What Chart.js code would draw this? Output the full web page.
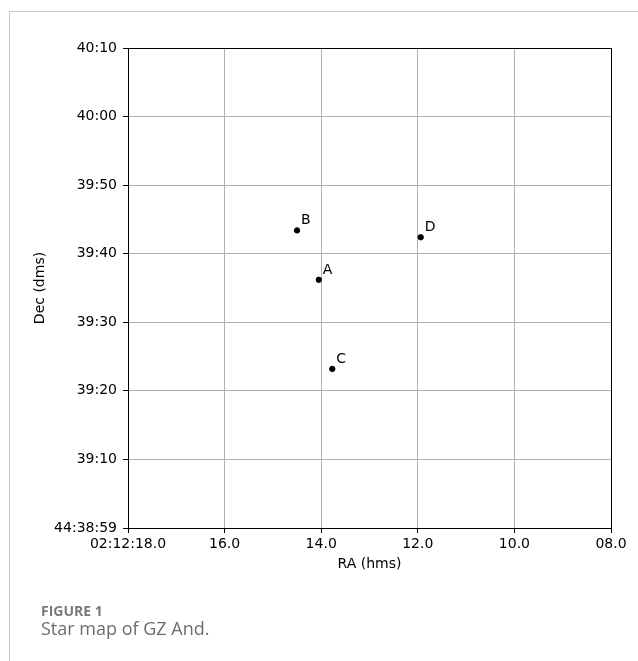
<!DOCTYPE html>
<html>
<head>
<meta charset="utf-8">
<script src="https://cdn.jsdelivr.net/npm/chart.js@4/dist/chart.umd.min.js"></script>
<style>
  html, body { margin: 0; padding: 0; background: #fff; width: 638px; height: 661px; overflow: hidden; }
  #frame { position: absolute; left: 9px; top: 11px; right: 0; bottom: 0; border-top: 1px solid #c8c8c8; border-left: 1px solid #c8c8c8; }
  #wrap { position: absolute; left: 0; top: 0; width: 638px; height: 661px; }
  .cap { position: absolute; left: 41px; font-family: "Open Sans", sans-serif; color: #6d6d6d; white-space: nowrap; }
  #capHead { top: 601px; font-size: 14px; font-weight: 700; color: #7a7a7a; }
  #capText { top: 616px; font-size: 18px; }
</style>
</head>
<body>
<div id="frame"></div>
<div id="wrap"><canvas id="starMap"></canvas></div>
<div class="cap" id="capHead">FIGURE 1</div>
<div class="cap" id="capText">Star map of GZ And.</div>
<script>
// stars around GZ And: RA seconds past 02:12, Dec arcsec past 44:39:00
var starNames = ['A', 'B', 'C', 'D'];
var raSec = [14.05, 14.50, 13.77, 11.94];
var decSec = [36.2, 43.4, 23.2, 42.4];

var raTicks = [18, 16, 14, 12, 10, 8];
var raTickLabels = ['02:12:18.0', '16.0', '14.0', '12.0', '10.0', '08.0'];
var decTicks = [0, 10, 20, 30, 40, 50, 60, 70];
var decTickLabels = ['44:38:59', '39:10', '39:20', '39:30', '39:40', '39:50', '40:00', '40:10'];

var tickFont = { family: 'DejaVu Sans', size: 14 };

function lookup(values, labels, v) {
  for (var i = 0; i < values.length; i++) {
    if (Math.abs(values[i] - v) < 1e-6) return labels[i];
  }
  return '';
}

var points = [];
for (var i = 0; i < starNames.length; i++) {
  points.push({ x: raSec[i], y: decSec[i] });
}

// black box around the plot area
var frameBox = {
  id: 'frameBox',
  afterDraw: function(chart) {
    var a = chart.chartArea;
    var c = chart.ctx;
    c.save();
    c.strokeStyle = '#000';
    c.lineWidth = 1;
    c.strokeRect(Math.round(a.left) + 0.5, Math.round(a.top) + 0.5,
      Math.round(a.right - a.left), Math.round(a.bottom - a.top));
    c.restore();
  }
};

// star name next to each dot
var starLabels = {
  id: 'starLabels',
  afterDatasetsDraw: function(chart) {
    var c = chart.ctx;
    var xs = chart.scales.x, ys = chart.scales.y;
    c.save();
    c.font = '14px "DejaVu Sans"';
    c.fillStyle = '#000';
    c.textAlign = 'left';
    c.textBaseline = 'alphabetic';
    for (var i = 0; i < starNames.length; i++) {
      c.fillText(starNames[i], xs.getPixelForValue(raSec[i]) + 4, ys.getPixelForValue(decSec[i]) - 6);
    }
    c.restore();
  }
};

new Chart(document.getElementById('starMap'), {
  type: 'scatter',
  data: {
    datasets: [{
      data: points,
      backgroundColor: '#000',
      borderColor: '#000',
      pointRadius: 2.7,
      pointHoverRadius: 2.7
    }]
  },
  options: {
    responsive: true,
    maintainAspectRatio: false,
    animation: false,
    layout: { padding: { left: 0, top: 48, right: 27, bottom: 88 } },
    plugins: { legend: { display: false }, tooltip: { enabled: false } },
    scales: {
      x: {
        type: 'linear',
        reverse: true,
        min: 8,
        max: 18,
        afterBuildTicks: function(scale) {
          scale.ticks = raTicks.map(function(v) { return { value: v }; });
        },
        afterFit: function(scale) { scale.height = 45; },
        ticks: {
          font: tickFont,
          color: '#000',
          padding: 3,
          maxRotation: 0,
          autoSkip: false,
          callback: function(v) { return lookup(raTicks, raTickLabels, v); }
        },
        grid: { color: '#b0b0b0', lineWidth: 1, tickColor: '#000', tickLength: 5, tickWidth: 1 },
        border: { display: true, color: '#000', width: 1 },
        title: { display: true, text: 'RA (hms)', font: tickFont, color: '#000', padding: 0 }
      },
      y: {
        type: 'linear',
        min: 0,
        max: 70,
        afterBuildTicks: function(scale) {
          scale.ticks = decTicks.map(function(v) { return { value: v }; });
        },
        afterFit: function(scale) { scale.width = 128; },
        ticks: {
          font: tickFont,
          color: '#000',
          padding: 6,
          autoSkip: false,
          callback: function(v) { return lookup(decTicks, decTickLabels, v); }
        },
        grid: { color: '#b0b0b0', lineWidth: 1, tickColor: '#000', tickLength: 5, tickWidth: 1 },
        border: { display: true, color: '#000', width: 1 },
        title: { display: true, text: 'Dec (dms)', font: tickFont, color: '#000', padding: { top: 32, bottom: 0 } }
      }
    }
  },
  plugins: [frameBox, starLabels]
});
</script>
</body>
</html>
